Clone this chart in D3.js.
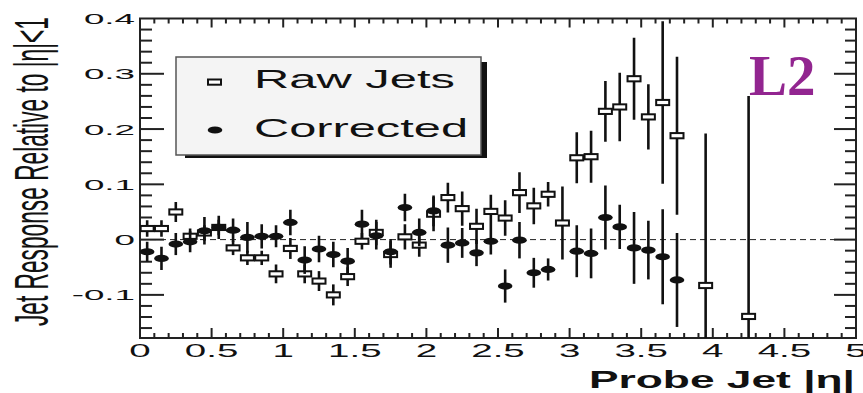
<!DOCTYPE html>
<html>
<head>
<meta charset="utf-8">
<script src="https://cdn.jsdelivr.net/npm/d3@7"></script>
<style>
  html, body { margin: 0; padding: 0; background: #fff; }
  svg { display: block; }
  text { font-family: "Liberation Sans", Arial, Helvetica, sans-serif; fill: #111; }
</style>
</head>
<body>
<svg id="chart" width="863" height="393"></svg>
<script>
// Probe-jet |eta| bin centres
const eta = [0.05, 0.15, 0.25, 0.35, 0.45, 0.55, 0.65, 0.75, 0.85, 0.95,
             1.05, 1.15, 1.25, 1.35, 1.45, 1.55, 1.65, 1.75, 1.85, 1.95,
             2.05, 2.15, 2.25, 2.35, 2.45, 2.55, 2.65, 2.75, 2.85, 2.95,
             3.05, 3.15, 3.25, 3.35, 3.45, 3.55, 3.65, 3.75, 3.95, 4.25];

// Raw jet response relative to |eta|<1 and its uncertainty
const rawResp = [0.020, 0.020, 0.050, 0.006, 0.012, 0.022, -0.015, -0.033, -0.033, -0.062,
                 -0.016, -0.062, -0.075, -0.100, -0.067, -0.003, 0.013, -0.027, 0.005, -0.010,
                 0.046, 0.076, 0.056, 0.024, 0.051, 0.039, 0.085, 0.061, 0.082, 0.030,
                 0.148, 0.150, 0.232, 0.240, 0.291, 0.222, 0.248, 0.188, -0.083, -0.139];
const rawErr  = [0.015, 0.015, 0.018, 0.014, 0.014, 0.014, 0.013, 0.013, 0.013, 0.017,
                 0.019, 0.017, 0.018, 0.019, 0.017, 0.015, 0.023, 0.024, 0.023, 0.021,
                 0.031, 0.027, 0.031, 0.032, 0.030, 0.032, 0.037, 0.033, 0.022, 0.066,
                 0.046, 0.047, 0.055, 0.062, 0.074, 0.059, 0.147, 0.143, 0.275, 0.399];

// L2-corrected response (null where no measurement)
const corResp = [-0.022, -0.034, -0.008, -0.004, 0.016, 0.022, 0.017, 0.004, 0.006, 0.006,
                 0.031, -0.037, -0.017, -0.027, -0.039, 0.028, 0.007, -0.022, 0.058, 0.013,
                 0.052, -0.010, -0.006, -0.024, -0.003, -0.084, -0.001, -0.060, -0.054, null,
                 -0.021, -0.025, 0.040, 0.023, -0.015, -0.019, -0.031, -0.073, null, null];
const corErr  = [0.018, 0.021, 0.020, 0.019, 0.025, 0.021, 0.021, 0.028, 0.022, 0.020,
                 0.023, 0.025, 0.024, 0.023, 0.024, 0.026, 0.025, 0.023, 0.025, 0.025,
                 0.028, 0.032, 0.027, 0.024, 0.024, 0.030, 0.033, 0.027, 0.020, null,
                 0.047, 0.045, 0.058, 0.040, 0.065, 0.053, 0.086, 0.085, null, null];

const xTicks = [0, 0.5, 1, 1.5, 2, 2.5, 3, 3.5, 4, 4.5, 5];
const yTicks = [-0.1, 0, 0.1, 0.2, 0.3, 0.4];
const legendLabels = ["Raw Jets", "Corrected"];

const svg = d3.select("#chart");
const plot = { left: 140, right: 856, top: 18.5, bottom: 338 };

const x = d3.scaleLinear().domain([0, 5]).range([plot.left, plot.right]);
const y = d3.scaleLinear().domain([-0.178, 0.4]).range([plot.bottom, plot.top]);

svg.append("defs").append("clipPath").attr("id", "plotClip")
  .append("rect")
  .attr("x", plot.left).attr("y", plot.top)
  .attr("width", plot.right - plot.left).attr("height", plot.bottom - plot.top);

// zero reference line
svg.append("line")
  .attr("x1", x(0)).attr("x2", x(5)).attr("y1", y(0)).attr("y2", y(0))
  .attr("stroke", "#222").attr("stroke-width", 1).attr("stroke-dasharray", "6,4");

// frame
svg.append("rect")
  .attr("x", plot.left).attr("y", plot.top)
  .attr("width", plot.right - plot.left).attr("height", plot.bottom - plot.top)
  .attr("fill", "none").attr("stroke", "#222").attr("stroke-width", 2);

// inward ticks on all four sides
const yMinor = d3.range(-16, 40, 2).map(v => v / 100);
const xMinor = d3.range(0, 51, 1).map(v => v / 10);
const isMajorY = v => Math.abs(Math.round(v * 10) - v * 10) < 1e-6;
const isMajorX = v => Math.abs(Math.round(v * 2) - v * 2) < 1e-6;

const ticks = svg.append("g").attr("stroke", "#222").attr("stroke-width", 2);
yMinor.forEach(v => {
  const len = isMajorY(v) ? 24 : 12;
  const lenR = isMajorY(v) ? 22 : 11;
  ticks.append("line").attr("x1", plot.left).attr("x2", plot.left + len).attr("y1", y(v)).attr("y2", y(v));
  ticks.append("line").attr("x1", plot.right).attr("x2", plot.right - lenR).attr("y1", y(v)).attr("y2", y(v));
});
xMinor.forEach(v => {
  const len = isMajorX(v) ? 10 : 5;
  const lenT = isMajorX(v) ? 9 : 5;
  ticks.append("line").attr("x1", x(v)).attr("x2", x(v)).attr("y1", plot.bottom).attr("y2", plot.bottom - len);
  ticks.append("line").attr("x1", x(v)).attr("x2", x(v)).attr("y1", plot.top).attr("y2", plot.top + lenT);
});

// tick labels (horizontally widened glyphs)
const fmt = v => (Math.abs(v) < 1e-9 ? "0" : String(+v.toFixed(1)));
svg.append("g").selectAll("text").data(yTicks).join("text")
  .attr("transform", d => `translate(135,${y(d) + 5.5}) scale(2.45,1)`)
  .attr("text-anchor", "end").attr("font-size", 15)
  .text(d => fmt(d));

svg.append("g").selectAll("text").data(xTicks).join("text")
  .attr("transform", d => `translate(${x(d)},357) scale(2.2,1)`)
  .attr("text-anchor", "middle").attr("font-size", 17.5)
  .text(d => fmt(d));

// axis titles
svg.append("text")
  .attr("x", 855).attr("y", 388).attr("text-anchor", "end")
  .attr("font-size", 23).attr("font-weight", "bold")
  .attr("textLength", 266).attr("lengthAdjust", "spacingAndGlyphs")
  .text("Probe Jet |η|");

svg.append("text")
  .attr("transform", "translate(48,326) scale(2.05,1) rotate(-90)")
  .attr("font-size", 23)
  .attr("textLength", 309).attr("lengthAdjust", "spacingAndGlyphs")
  .text("Jet Response Relative to |η|<1");

// data
const rows = eta.map((e, i) => ({ e, r: rawResp[i], re: rawErr[i], c: corResp[i], ce: corErr[i] }));
const data = svg.append("g").attr("clip-path", "url(#plotClip)");

const rawRows = rows.filter(d => d.r !== null);
data.append("g").selectAll("line").data(rawRows).join("line")
  .attr("x1", d => x(d.e)).attr("x2", d => x(d.e))
  .attr("y1", d => y(d.r - d.re)).attr("y2", d => y(d.r + d.re))
  .attr("stroke", "#111").attr("stroke-width", 2.6);
data.append("g").selectAll("rect").data(rawRows).join("rect")
  .attr("x", d => x(d.e) - 6.5).attr("y", d => y(d.r) - 2.6)
  .attr("width", 13).attr("height", 5.2)
  .attr("fill", "#fff").attr("stroke", "#111").attr("stroke-width", 2);

const corRows = rows.filter(d => d.c !== null);
data.append("g").selectAll("line").data(corRows).join("line")
  .attr("x1", d => x(d.e)).attr("x2", d => x(d.e))
  .attr("y1", d => y(d.c - d.ce)).attr("y2", d => y(d.c + d.ce))
  .attr("stroke", "#111").attr("stroke-width", 2.6);
data.append("g").selectAll("ellipse").data(corRows).join("ellipse")
  .attr("cx", d => x(d.e)).attr("cy", d => y(d.c))
  .attr("rx", 7.3).attr("ry", 3.6).attr("fill", "#111");

// legend
const lg = svg.append("g");
lg.append("rect").attr("x", 185).attr("y", 62).attr("width", 302).attr("height", 96).attr("fill", "#111");
lg.append("rect").attr("x", 176).attr("y", 57).attr("width", 305).attr("height", 98)
  .attr("fill", "#f4f4f4").attr("stroke", "#555").attr("stroke-width", 1.5);
lg.append("rect").attr("x", 208).attr("y", 79.5).attr("width", 13).attr("height", 5.2)
  .attr("fill", "#fff").attr("stroke", "#111").attr("stroke-width", 2);
lg.append("ellipse").attr("cx", 215).attr("cy", 130).attr("rx", 7.3).attr("ry", 3.6).attr("fill", "#111");
lg.selectAll("text.lab").data(legendLabels).join("text").attr("class", "lab")
  .attr("x", 254).attr("y", (d, i) => 88 + i * 49)
  .attr("font-size", 25)
  .attr("textLength", (d, i) => i === 0 ? 201 : 214).attr("lengthAdjust", "spacingAndGlyphs")
  .text(d => d);

// correction level tag
svg.append("text")
  .attr("x", 749).attr("y", 95)
  .style("font-family", "'Liberation Serif', 'Times New Roman', serif")
  .style("font-weight", "bold").style("font-size", "57px")
  .style("fill", "#922590")
  .text("L2");
</script>
</body>
</html>
